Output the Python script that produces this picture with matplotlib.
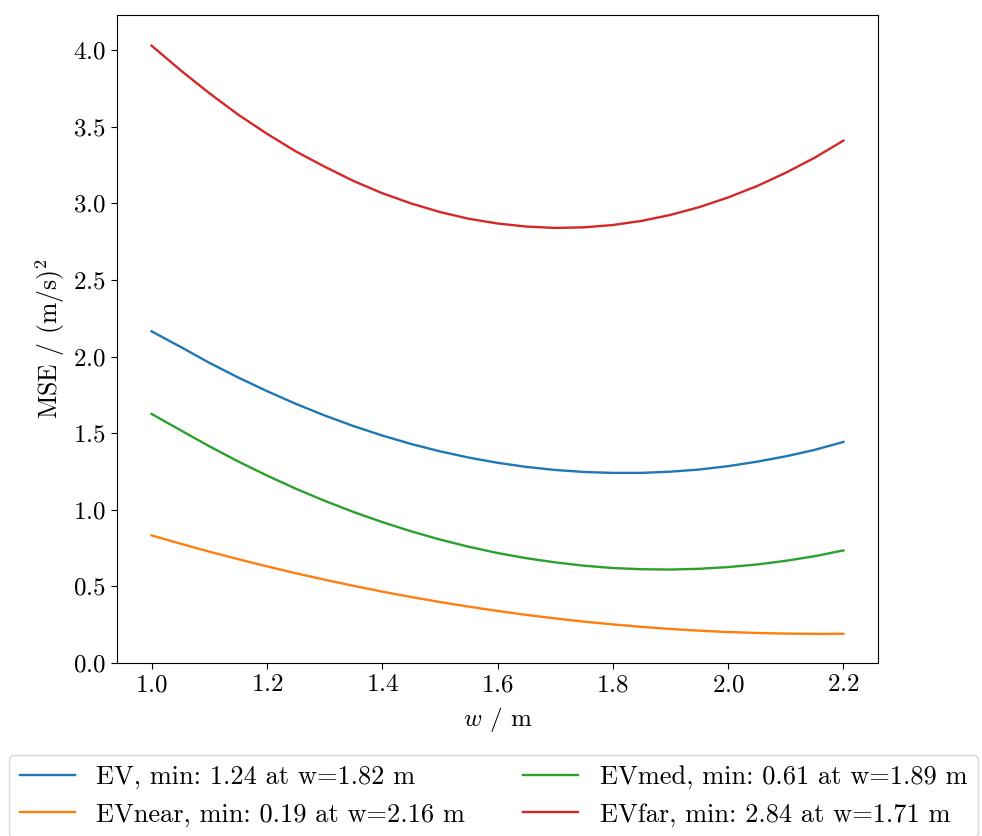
import numpy as np
import matplotlib
matplotlib.use("Agg")
import matplotlib.pyplot as plt

# values
w = [1.0, 1.05, 1.1, 1.15, 1.2, 1.25, 1.3, 1.35, 1.4, 1.45, 1.5, 1.55, 1.6,
     1.65, 1.7, 1.75, 1.8, 1.85, 1.9, 1.95, 2.0, 2.05, 2.1, 2.15, 2.2]
mse_ev = [2.165, 2.064, 1.96, 1.864, 1.775, 1.692, 1.616, 1.547, 1.485, 1.43, 1.382, 1.341, 1.307,
          1.28, 1.26, 1.247, 1.241, 1.241, 1.249, 1.263, 1.285, 1.314, 1.349, 1.391, 1.443]
mse_near = [0.833, 0.779, 0.727, 0.678, 0.631, 0.586, 0.544, 0.504, 0.466, 0.431, 0.398, 0.368, 0.34,
            0.314, 0.291, 0.27, 0.252, 0.236, 0.222, 0.211, 0.202, 0.196, 0.192, 0.19, 0.191]
mse_med = [1.626, 1.52, 1.415, 1.316, 1.224, 1.138, 1.059, 0.986, 0.92, 0.86, 0.806, 0.759, 0.718,
           0.684, 0.657, 0.635, 0.62, 0.612, 0.61, 0.615, 0.626, 0.643, 0.667, 0.697, 0.735]
mse_far = [4.03, 3.87, 3.72, 3.58, 3.455, 3.34, 3.24, 3.147, 3.067, 3.0, 2.944, 2.90, 2.869,
           2.849, 2.84, 2.844, 2.859, 2.886, 2.925, 2.976, 3.039, 3.113, 3.20, 3.298, 3.41]

labels = ["EV, min: 1.24 at w=1.82 m",
          "EVnear, min: 0.19 at w=2.16 m",
          "EVmed, min: 0.61 at w=1.89 m",
          "EVfar, min: 2.84 at w=1.71 m"]
colors = ["#1f77b4", "#ff7f0e", "#2ca02c", "#d62728"]

plt.rcParams["font.family"] = "serif"
plt.rcParams["font.serif"] = ["cmr10", "DejaVu Serif"]
plt.rcParams["mathtext.fontset"] = "cm"
plt.rcParams["axes.formatter.use_mathtext"] = True
plt.rcParams["font.size"] = 18
plt.rcParams["xtick.major.size"] = 4.5
plt.rcParams["ytick.major.size"] = 4.5

fig = plt.figure(figsize=(9.82, 8.36), dpi=100)
ax = fig.add_axes([117/982, 1-663/836, (878-117)/982, (663-15)/836])

for ys, lab, c in zip([mse_ev, mse_near, mse_med, mse_far], labels, colors):
    ax.plot(w, ys, color=c, lw=1.7, label=lab)

ax.set_ylim(0, 4.23)
ax.set_xlim(0.94, 2.26)
ax.set_xticks(np.arange(1.0, 2.21, 0.2))
ax.set_yticks(np.arange(0, 4.01, 0.5))
ax.set_xlabel("$w$ / m", labelpad=6)
ax.set_ylabel("MSE / (m/s)$^2$", fontsize=18.5)

fig.legend(loc="upper left", bbox_to_anchor=(9/982, 1-755/836), borderaxespad=0,
           ncol=2, fontsize=19, handlelength=2.1, columnspacing=2.2)

fig.savefig("out.png", dpi=100)
